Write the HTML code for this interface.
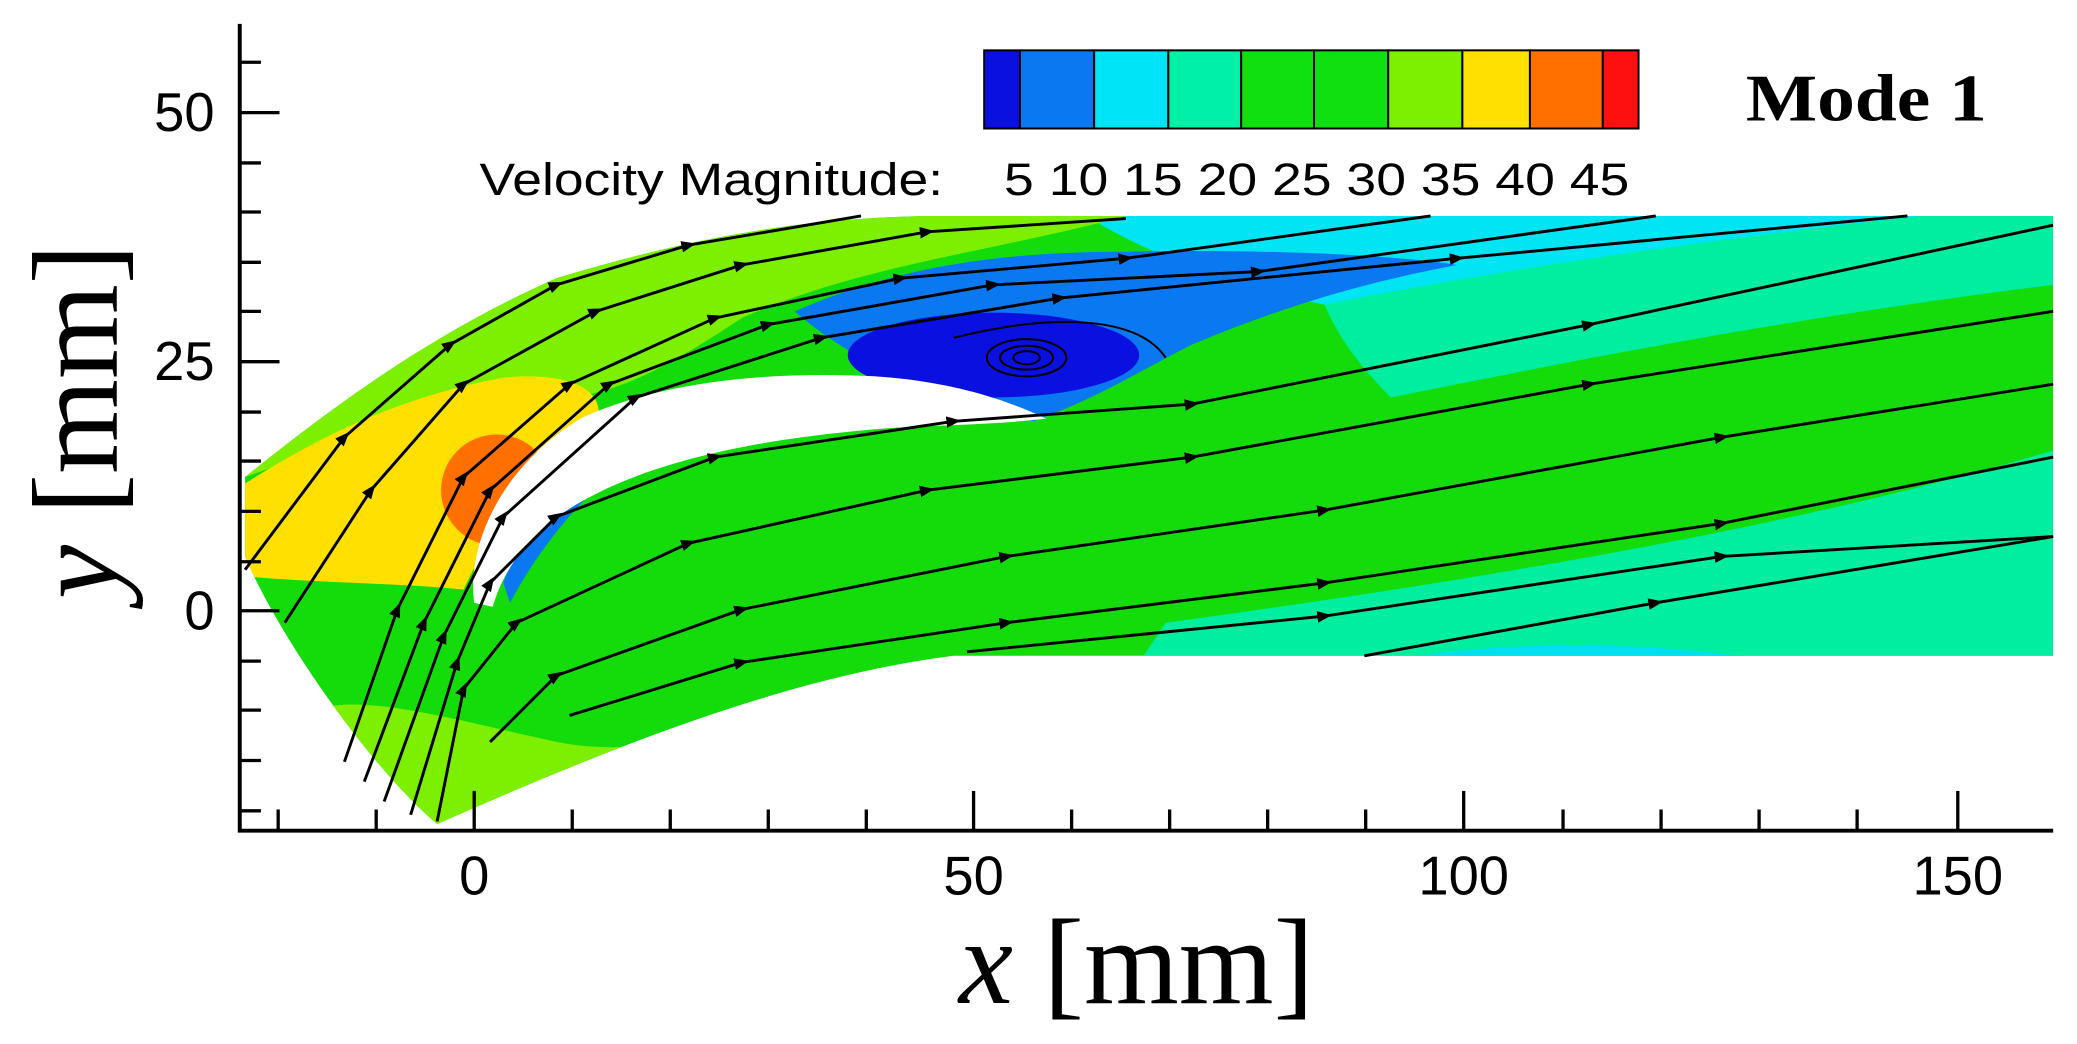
<!DOCTYPE html>
<html><head><meta charset="utf-8"><style>
html,body{margin:0;padding:0;background:#fff;}
svg{display:block}
</style></head><body>
<svg width="2077" height="1044" viewBox="0 0 1568 788" preserveAspectRatio="none" xmlns="http://www.w3.org/2000/svg">
<defs>
<marker id="a" viewBox="0 0 10 10" refX="5" refY="5" markerWidth="5" markerHeight="5" orient="auto"><path d="M0,1 L10,5 L0,9 z" fill="#000"/></marker>
<clipPath id="dom"><path d="M185,360 C260,300 330,250 420,210 C520,180 600,165 700,163 L1550,163 L1550,495 L720,495 C600,510 470,560 330,622 C280,580 210,480 185,420 Z"/></clipPath>
</defs>
<rect width="1568" height="788" fill="#fff"/>
<g clip-path="url(#dom)">
<rect x="180" y="150" width="1380" height="480" fill="#14dc0a"/>
<path d="M1000,163 L1550,163 L1550,215 C1350,240 1200,270 1050,300 C1000,250 980,200 1000,163 Z" fill="#00eea0"/>
<path d="M880,470 C1100,440 1350,400 1550,340 L1550,500 L860,500 Z" fill="#00eea0"/>
<path d="M1040,500 C1150,480 1250,485 1350,500 Z" fill="#00e0f0"/>
<path d="M820,163 L1450,163 C1300,180 1150,200 1000,230 C950,220 880,200 820,163 Z" fill="#00e4f4"/>
<path d="M185,360 C260,300 330,250 420,210 C520,180 600,165 700,163 L850,163 C750,190 650,200 560,240 C500,280 460,300 420,300 L300,320 Z" fill="#7cf000"/>
<path d="M230,540 C260,520 330,540 420,560 C470,570 520,560 560,545 L330,630 L230,600 Z" fill="#7cf000"/>
<path d="M185,365 C240,330 300,300 380,285 C430,280 460,295 450,320 C420,350 380,380 350,445 C300,440 240,440 185,435 Z" fill="#ffe000"/>
<ellipse cx="375" cy="370" rx="42" ry="42" fill="#ff7000"/>
<path d="M600,235 C680,200 760,190 850,190 C950,188 1050,192 1100,200 C1020,215 960,235 900,260 C860,280 830,300 780,318 C700,300 640,270 600,235 Z" fill="#0a78f0"/>
<path d="M380,440 C400,380 450,330 520,300 L540,310 C470,340 420,390 385,455 Z" fill="#0a78f0"/>
<ellipse cx="750" cy="268" rx="110" ry="32" fill="#0a10e0"/>
</g>
<path d="M358,455 C352,410 380,350 440,315 C500,288 580,280 660,284 C720,288 760,302 790,316 C740,322 690,320 640,326 C560,334 490,350 440,378 C400,400 380,430 372,458 Z" fill="#fff"/>
<g fill="none" stroke="#000" stroke-width="2.2" marker-mid="url(#a)">
<path d="M185,430 L260,330 L340,260 L420,215 L520,185 L650,163"/>
<path d="M215,470 L280,370 L350,290 L450,235 L560,200 L700,175 L850,165"/>
<path d="M260,575 L300,460 L350,360 L430,290 L540,240 L680,210 L850,195 L1080,163"/>
<path d="M275,590 L320,470 L370,370 L460,290 L580,245 L750,215 L950,205 L1250,163"/>
<path d="M290,605 L335,480 L380,390 L480,300 L620,255 L800,225 L1100,195 L1440,163"/>
<path d="M310,615 L345,500 L370,440 L420,390 L540,345 L720,318 L900,305 L1200,245 L1550,170"/>
<path d="M330,620 L350,520 L390,470 L520,410 L700,370 L900,345 L1200,290 L1550,235"/>
<path d="M370,560 L420,510 L560,460 L760,420 L1000,385 L1300,330 L1550,290"/>
<path d="M430,540 L560,500 L760,470 L1000,440 L1300,395 L1550,345"/>
<path d="M730,492 L1000,465 L1300,420 L1550,405"/>
<path d="M1030,495 L1250,455 L1550,405"/>
</g>
<g fill="none" stroke="#000" stroke-width="1.5">
<ellipse cx="775" cy="270" rx="30" ry="14"/>
<ellipse cx="775" cy="270" rx="20" ry="9"/>
<ellipse cx="775" cy="270" rx="10" ry="5"/>
<path d="M720,255 C800,235 860,240 880,270"/>
</g>
<g stroke="#000" stroke-width="3" fill="none">
<path d="M181,18 L181,627 L1550,627"/>
</g>
<g stroke="#000" stroke-width="2.5">
<line x1="181" y1="85" x2="211" y2="85"/><line x1="181" y1="273" x2="211" y2="273"/><line x1="181" y1="461" x2="211" y2="461"/>
<line x1="181" y1="47" x2="197" y2="47"/><line x1="181" y1="123" x2="197" y2="123"/><line x1="181" y1="160" x2="197" y2="160"/><line x1="181" y1="198" x2="197" y2="198"/><line x1="181" y1="235" x2="197" y2="235"/><line x1="181" y1="311" x2="197" y2="311"/><line x1="181" y1="348" x2="197" y2="348"/><line x1="181" y1="386" x2="197" y2="386"/><line x1="181" y1="424" x2="197" y2="424"/><line x1="181" y1="499" x2="197" y2="499"/><line x1="181" y1="536" x2="197" y2="536"/><line x1="181" y1="574" x2="197" y2="574"/><line x1="181" y1="612" x2="197" y2="612"/>
<line x1="358" y1="627" x2="358" y2="597"/><line x1="735" y1="627" x2="735" y2="597"/><line x1="1105" y1="627" x2="1105" y2="597"/><line x1="1478" y1="627" x2="1478" y2="597"/>
<line x1="210" y1="627" x2="210" y2="611"/><line x1="284" y1="627" x2="284" y2="611"/><line x1="432" y1="627" x2="432" y2="611"/><line x1="506" y1="627" x2="506" y2="611"/><line x1="580" y1="627" x2="580" y2="611"/><line x1="654" y1="627" x2="654" y2="611"/><line x1="809" y1="627" x2="809" y2="611"/><line x1="883" y1="627" x2="883" y2="611"/><line x1="957" y1="627" x2="957" y2="611"/><line x1="1031" y1="627" x2="1031" y2="611"/><line x1="1180" y1="627" x2="1180" y2="611"/><line x1="1254" y1="627" x2="1254" y2="611"/><line x1="1328" y1="627" x2="1328" y2="611"/><line x1="1402" y1="627" x2="1402" y2="611"/>
</g>
<g font-family="Liberation Sans, sans-serif" font-size="41" fill="#000">
<text x="162" y="99" text-anchor="end">50</text>
<text x="162" y="287" text-anchor="end">25</text>
<text x="162" y="475" text-anchor="end">0</text>
<text x="358" y="675" text-anchor="middle">0</text>
<text x="735" y="675" text-anchor="middle">50</text>
<text x="1105" y="675" text-anchor="middle">100</text>
<text x="1478" y="675" text-anchor="middle">150</text>
</g>
<text x="858" y="757" text-anchor="middle" font-family="Liberation Serif, serif" font-size="92"><tspan font-style="italic">x</tspan> [mm]</text>
<text transform="translate(88,318) rotate(-90)" text-anchor="middle" font-family="Liberation Serif, serif" font-size="92"><tspan font-style="italic">y</tspan> [mm]</text>
<g stroke="#000" stroke-width="1.5">
<rect x="743" y="38" width="27" height="59" fill="#0a10e0"/>
<rect x="770" y="38" width="56" height="59" fill="#0a78f0"/>
<rect x="826" y="38" width="56" height="59" fill="#00e4f8"/>
<rect x="882" y="38" width="55" height="59" fill="#00f0a8"/>
<rect x="937" y="38" width="55" height="59" fill="#10e010"/>
<rect x="992" y="38" width="56" height="59" fill="#10e010"/>
<rect x="1048" y="38" width="56" height="59" fill="#7cf000"/>
<rect x="1104" y="38" width="51" height="59" fill="#ffe000"/>
<rect x="1155" y="38" width="55" height="59" fill="#ff7000"/>
<rect x="1210" y="38" width="27" height="59" fill="#ff1010"/>
</g>
<g font-family="Liberation Sans, sans-serif" font-size="34" fill="#000">
<text x="362" y="147" textLength="350" lengthAdjust="spacingAndGlyphs">Velocity Magnitude:</text>
<text x="758" y="147" textLength="472" lengthAdjust="spacingAndGlyphs">5 10 15 20 25 30 35 40 45</text>
</g>
<text x="1318" y="91" font-family="Liberation Serif, serif" font-weight="bold" font-size="50" textLength="182" lengthAdjust="spacingAndGlyphs">Mode 1</text>
</svg>
</body></html>
